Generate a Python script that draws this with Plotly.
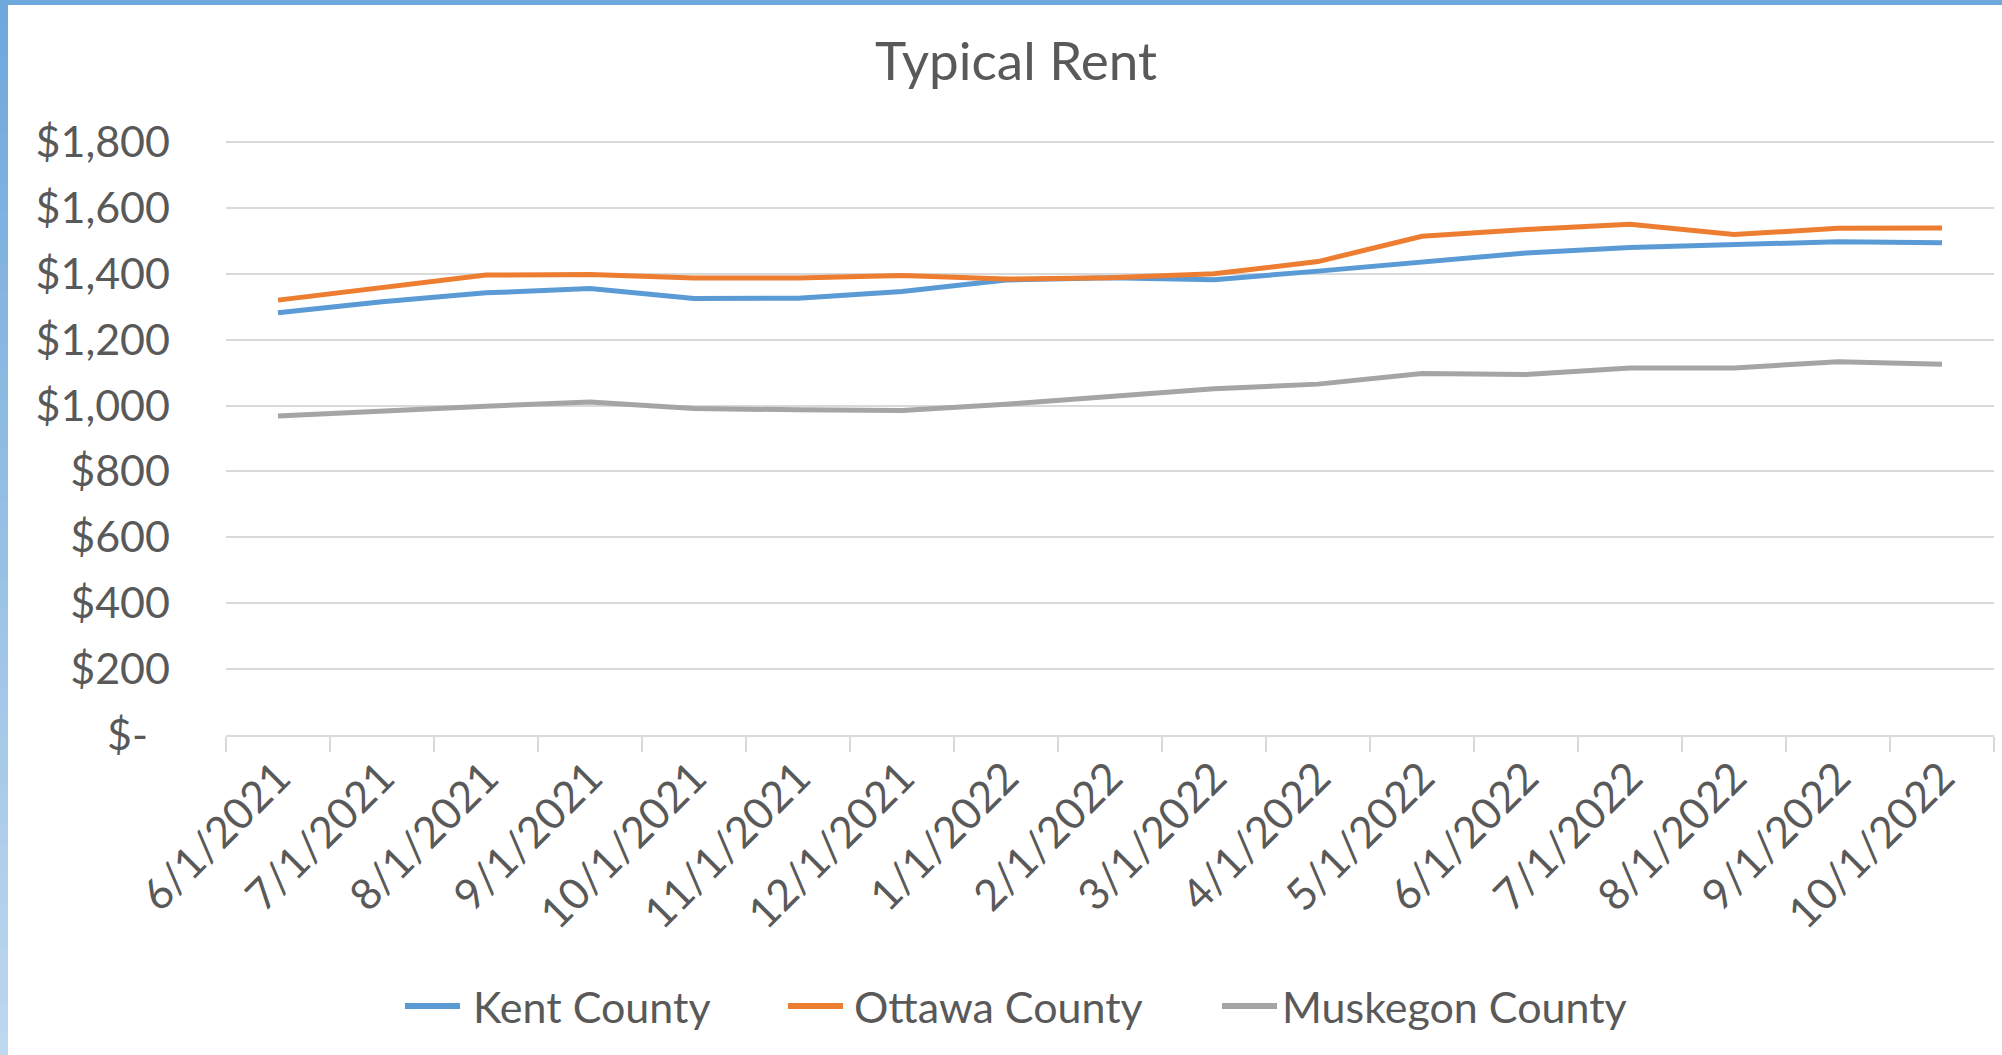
import plotly.graph_objects as go

months = ["6/1/2021", "7/1/2021", "8/1/2021", "9/1/2021", "10/1/2021", "11/1/2021",
          "12/1/2021", "1/1/2022", "2/1/2022", "3/1/2022", "4/1/2022", "5/1/2022",
          "6/1/2022", "7/1/2022", "8/1/2022", "9/1/2022", "10/1/2022"]
kent = [1282, 1315, 1342, 1355, 1325, 1326, 1346, 1381, 1388, 1382, 1408, 1436,
        1463, 1480, 1488, 1497, 1494]
ottawa = [1320, 1358, 1396, 1398, 1387, 1387, 1395, 1384, 1388, 1400, 1437, 1514,
          1534, 1550, 1519, 1538, 1539]
muskegon = [968, 984, 998, 1011, 991, 987, 985, 1004, 1026, 1051, 1065, 1097,
            1094, 1114, 1114, 1133, 1125]
y_ticks = [0, 200, 400, 600, 800, 1000, 1200, 1400, 1600, 1800]
y_tick_text = ["$-\u00a0\u00a0", "$200", "$400", "$600", "$800", "$1,000", "$1,200",
               "$1,400", "$1,600", "$1,800"]

series = [("Kent County", kent, "#5B9BD5"),
          ("Ottawa County", ottawa, "#ED7D31"),
          ("Muskegon County", muskegon, "#A5A5A5")]

FONT = "Lato"
TXT = "#595959"

W, H = 2002, 1055
L, R, T, B = 226, 8, 140, 320
pw = W - L - R
ph = H - T - B


def px_x(x):
    return (x - L) / pw


def px_y(y):
    return (H - B - y) / ph


fig = go.Figure()
for name, vals, col in series:
    fig.add_trace(go.Scatter(x=months, y=vals, name=name, mode="lines",
                             line=dict(color=col, width=5), showlegend=False,
                             hoverinfo="skip"))

shapes = []
annotations = []
# top border
shapes.append(dict(type="rect", xref="paper", yref="paper",
                   x0=px_x(0), x1=px_x(W), y0=px_y(5), y1=px_y(-2),
                   fillcolor="#6FA8DC", line=dict(width=0), layer="below"))
# left border gradient
n = 40
c0 = (0x6F, 0xA8, 0xDC)
c1 = (0xBD, 0xD7, 0xEE)
for i in range(n):
    t = i / (n - 1)
    c = tuple(int(round(a + (b - a) * t)) for a, b in zip(c0, c1))
    ytop = H * i / n
    ybot = H * (i + 1) / n + 1
    shapes.append(dict(type="rect", xref="paper", yref="paper",
                       x0=px_x(-2), x1=px_x(8), y0=px_y(ybot), y1=px_y(ytop),
                       fillcolor="rgb(%d,%d,%d)" % c, line=dict(width=0), layer="below"))

# legend drawn manually (Excel style: long line swatch + label)
legend_pos = [(405, 460, 471), (788, 843, 852), (1222, 1277, 1280)]
LEG_Y = 1006
for (name, vals, col), (lx0, lx1, tx) in zip(series, legend_pos):
    shapes.append(dict(type="line", xref="paper", yref="paper",
                       x0=px_x(lx0), x1=px_x(lx1), y0=px_y(LEG_Y), y1=px_y(LEG_Y),
                       line=dict(color=col, width=6)))
    annotations.append(dict(text=name, xref="paper", yref="paper",
                            x=px_x(tx), y=px_y(LEG_Y), xanchor="left", yanchor="middle",
                            showarrow=False,
                            font=dict(family=FONT, size=43, color=TXT)))

fig.update_layout(
    width=W, height=H,
    margin=dict(l=L, r=R, t=T, b=B),
    paper_bgcolor="white", plot_bgcolor="white",
    font=dict(family=FONT, color=TXT, size=43),
    title=dict(text="Typical Rent", x=1016 / W, xanchor="center",
               y=1 - 61 / H, yanchor="middle", yref="container",
               font=dict(family=FONT, size=53, color=TXT)),
    showlegend=False,
    hovermode=False,
    shapes=shapes,
    annotations=annotations,
)
fig.update_xaxes(type="category", range=[-0.5, len(months) - 0.5], automargin=False,
                 tickangle=-45, showgrid=False,
                 showline=True, linecolor="#D9D9D9", linewidth=2,
                 ticks="outside", tickson="boundaries", ticklen=15,
                 tickcolor="#D9D9D9", tickwidth=2, ticklabelstandoff=-2,
                 tickfont=dict(family=FONT, size=43, color=TXT))
fig.update_yaxes(range=[0, 1806], tickvals=y_ticks, ticktext=y_tick_text,
                 automargin=False,
                 showgrid=True, gridcolor="#D9D9D9", gridwidth=2,
                 showline=False, zeroline=False, ticks="",
                 ticklabelstandoff=55,
                 tickfont=dict(family=FONT, size=43, color=TXT))

fig.write_html("out.html", config={"displayModeBar": False, "staticPlot": True},
               post_script="document.body.style.margin='0';document.body.style.overflow='hidden';")
